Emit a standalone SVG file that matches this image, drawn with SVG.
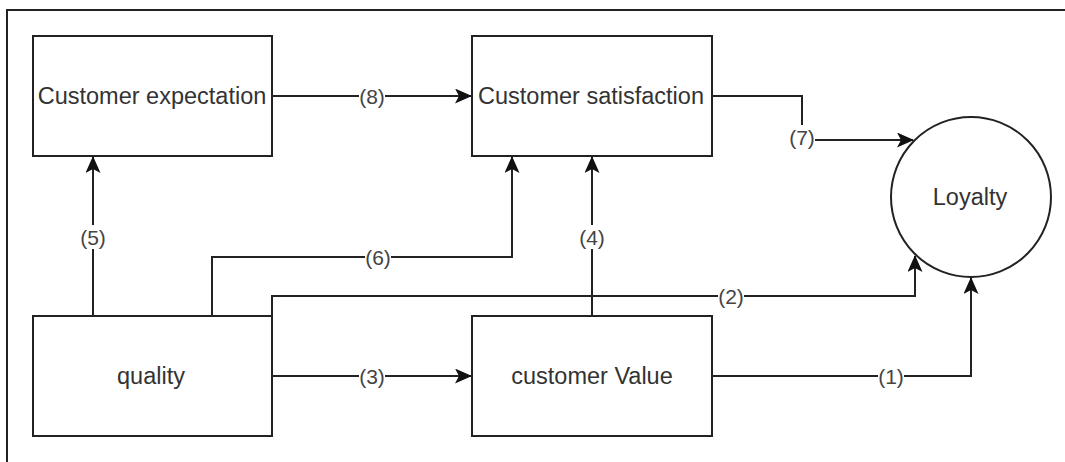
<svg xmlns="http://www.w3.org/2000/svg" width="1065" height="462" viewBox="0 0 1065 462">
<style>
.box{fill:#fff;stroke:#222;stroke-width:2}
.t{font-family:"Liberation Sans",Arial,sans-serif;font-size:23.5px;fill:#333;text-anchor:middle;dominant-baseline:central}
.e{fill:none;stroke:#222;stroke-width:2}
.lb{font-family:"Liberation Sans",Arial,sans-serif;font-size:21px;fill:#444;text-anchor:middle;dominant-baseline:central}
.bg{fill:#fff}
</style>
<defs>
<marker id="arr" viewBox="0 0 17 15" refX="16" refY="7.5" markerWidth="17" markerHeight="15" markerUnits="userSpaceOnUse" orient="auto">
<path d="M0,0 L17,7.5 L0,15 L4,7.5 z" fill="#111"/>
</marker>
</defs>
<rect width="1065" height="462" fill="#fff"/>
<path d="M7,462 V10 H1065" fill="none" stroke="#222" stroke-width="2"/>
<g id="connectors">
<path class="e" d="M272,96 H471" marker-end="url(#arr)"/>
<path class="e" d="M712,96 H802 V140 H913" marker-end="url(#arr)"/>
<path class="e" d="M93,316 V157" marker-end="url(#arr)"/>
<path class="e" d="M212,316 V257 H512 V157" marker-end="url(#arr)"/>
<path class="e" d="M272,316 V296 H915 V256" marker-end="url(#arr)"/>
<path class="e" d="M272,376 H471" marker-end="url(#arr)"/>
<path class="e" d="M592,316 V157" marker-end="url(#arr)"/>
<path class="e" d="M712,376 H971 V278" marker-end="url(#arr)"/>
<rect class="bg" x="359" y="84" width="26" height="24"/><text class="lb" x="372" y="96">(8)</text>
<rect class="bg" x="789" y="125" width="26" height="24"/><text class="lb" x="802" y="137">(7)</text>
<rect class="bg" x="80" y="225" width="26" height="24"/><text class="lb" x="93" y="237">(5)</text>
<rect class="bg" x="365" y="245" width="26" height="24"/><text class="lb" x="378" y="257">(6)</text>
<rect class="bg" x="579" y="225" width="26" height="24"/><text class="lb" x="592" y="237">(4)</text>
<rect class="bg" x="718" y="284" width="26" height="24"/><text class="lb" x="731" y="296">(2)</text>
<rect class="bg" x="359" y="364" width="26" height="24"/><text class="lb" x="372" y="376">(3)</text>
<rect class="bg" x="878" y="364" width="26" height="24"/><text class="lb" x="891" y="376">(1)</text>
</g>
<g id="customer-expectation"><rect class="box" x="33" y="36" width="239" height="120"/><text class="t" x="152" y="96">Customer expectation</text></g>
<g id="customer-satisfaction"><rect class="box" x="472" y="36" width="240" height="120"/><text class="t" x="591" y="96">Customer satisfaction</text></g>
<g id="quality"><rect class="box" x="33" y="316" width="239" height="120"/><text class="t" x="151" y="376">quality</text></g>
<g id="customer-value"><rect class="box" x="472" y="316" width="240" height="120"/><text class="t" x="592" y="376">customer Value</text></g>
<g id="loyalty"><circle class="box" cx="971" cy="197" r="80"/><text class="t" x="970" y="197">Loyalty</text></g>
</svg>
